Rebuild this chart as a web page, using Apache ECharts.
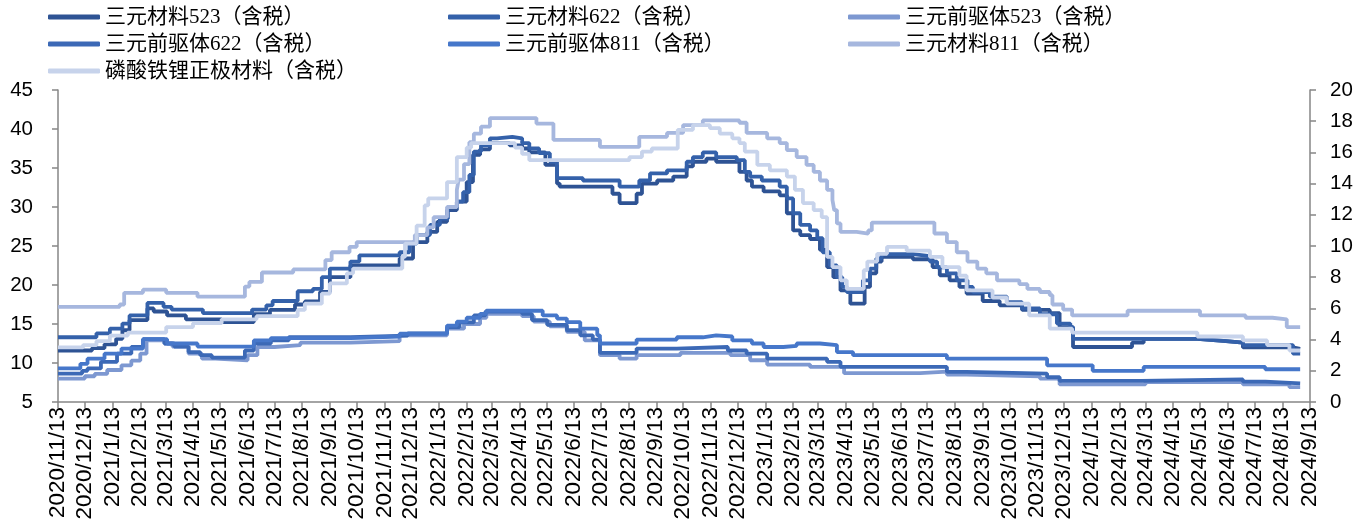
<!DOCTYPE html>
<html><head><meta charset="utf-8">
<script src="https://cdn.jsdelivr.net/npm/echarts@6/dist/echarts.min.js"></script>
<style>html,body{margin:0;padding:0;background:#fff}#c{width:1366px;height:527px}</style>
</head><body><div id="c"></div>
<script>
const seriesNames = ['三元材料523（含税）','三元材料622（含税）','三元前驱体523（含税）','三元前驱体622（含税）','三元前驱体811（含税）','三元材料811（含税）','磷酸铁锂正极材料（含税）'];
const tickLabels = ['2020/11/13','2020/12/13','2021/1/13','2021/2/13','2021/3/13','2021/4/13','2021/5/13','2021/6/13','2021/7/13','2021/8/13','2021/9/13','2021/10/13','2021/11/13','2021/12/13','2022/1/13','2022/2/13','2022/3/13','2022/4/13','2022/5/13','2022/6/13','2022/7/13','2022/8/13','2022/9/13','2022/10/13','2022/11/13','2022/12/13','2023/1/13','2023/2/13','2023/3/13','2023/4/13','2023/5/13','2023/6/13','2023/7/13','2023/8/13','2023/9/13','2023/10/13','2023/11/13','2023/12/13','2024/1/13','2024/2/13','2024/3/13','2024/4/13','2024/5/13','2024/6/13','2024/7/13','2024/8/13','2024/9/13'];
const leftTicks = [5,45,5];
const rightTicks = [0,20,2];

const ncm523 = [['2020-11-13',11.6],['2020-12-21',11.9],['2021-01-04',12.4],['2021-01-17',13.1],['2021-01-24',14.2],['2021-02-01',15.5],['2021-02-21',17.0],['2021-02-28',16.6],['2021-03-15',16.1],['2021-04-05',15.6],['2021-05-15',15.25],['2021-06-20',16.25],['2021-07-08',16.8],['2021-08-05',17.5],['2021-08-16',17.9],['2021-09-02',19.1],['2021-09-13',21.0],['2021-10-06',22.5],['2021-11-30',23.4],['2021-12-15',25.5],['2021-12-31',26.8],['2022-01-11',28.1],['2022-01-22',29.6],['2022-02-02',30.7],['2022-02-13',33.2],['2022-02-20',36.7],['2022-02-28',37.4],['2022-03-11',38.2],['2022-04-02',37.9],['2022-04-16',37.5],['2022-04-24',37.0],['2022-05-12',35.4],['2022-05-25',33.0],['2022-05-28',32.6],['2022-07-26',31.7],['2022-08-03',30.5],['2022-08-22',31.7],['2022-08-28',33.0],['2022-09-14',33.4],['2022-10-02',33.9],['2022-10-17',35.2],['2022-10-24',35.8],['2022-11-08',36.2],['2022-11-19',35.8],['2022-12-15',34.5],['2022-12-23',33.4],['2022-12-29',32.6],['2023-01-11',32.0],['2023-01-29',31.5],['2023-02-06',29.2],['2023-02-13',27.0],['2023-02-21',26.4],['2023-03-04',25.9],['2023-03-15',24.5],['2023-03-23',22.3],['2023-03-30',21.0],['2023-04-07',19.3],['2023-04-18',17.6],['2023-05-04',19.75],['2023-05-10',21.5],['2023-05-17',23.0],['2023-05-23',23.6],['2023-06-27',23.3],['2023-07-19',22.3],['2023-07-27',21.25],['2023-08-07',20.6],['2023-08-18',19.75],['2023-08-26',18.9],['2023-09-13',17.95],['2023-10-02',17.4],['2023-10-27',16.8],['2023-11-27',16.4],['2023-12-08',14.6],['2023-12-23',12.05],['2024-02-27',12.6],['2024-03-11',13.1],['2024-05-10',12.85],['2024-06-08',12.6],['2024-06-30',12.0],['2024-08-25',11.8],['2024-09-02',11.8]];

const ncm622 = [['2020-11-13',13.3],['2020-12-26',13.8],['2021-01-10',14.4],['2021-01-24',15.05],['2021-02-01',16.1],['2021-02-21',17.7],['2021-03-11',17.2],['2021-03-20',16.85],['2021-04-24',16.4],['2021-06-18',16.85],['2021-07-04',17.4],['2021-07-11',17.95],['2021-08-08',19.2],['2021-08-25',19.5],['2021-09-04',21.0],['2021-09-13',22.1],['2021-10-06',23.0],['2021-10-16',23.8],['2021-11-30',24.2],['2021-12-11',25.3],['2021-12-19',26.4],['2022-01-03',27.7],['2022-01-14',28.5],['2022-01-23',30.0],['2022-02-02',30.7],['2022-02-09',31.9],['2022-02-16',34.1],['2022-02-21',37.1],['2022-03-01',37.9],['2022-03-11',38.8],['2022-03-19',39.0],['2022-04-05',38.8],['2022-04-16',38.2],['2022-04-24',37.5],['2022-05-05',36.9],['2022-05-17',35.8],['2022-05-25',33.7],['2022-06-23',33.4],['2022-08-03',32.6],['2022-08-25',33.4],['2022-09-06',34.3],['2022-09-25',34.7],['2022-10-17',35.8],['2022-10-24',36.4],['2022-11-04',37.0],['2022-11-19',36.4],['2022-12-12',36.0],['2022-12-21',34.5],['2022-12-27',33.9],['2023-01-09',33.4],['2023-01-29',32.6],['2023-02-06',31.1],['2023-02-13',29.2],['2023-02-21',27.7],['2023-03-04',27.0],['2023-03-12',26.0],['2023-03-18',24.2],['2023-03-26',22.5],['2023-04-03',21.0],['2023-04-09',19.75],['2023-04-14',19.1],['2023-05-02',20.6],['2023-05-10',22.1],['2023-05-17',23.4],['2023-05-23',23.95],['2023-06-27',23.7],['2023-07-16',23.0],['2023-07-24',22.25],['2023-08-04',21.5],['2023-08-15',20.6],['2023-08-27',19.75],['2023-09-02',19.1],['2023-09-21',18.5],['2023-10-10',17.8],['2023-10-27',17.0],['2023-11-16',16.25],['2023-12-05',15.05],['2023-12-20',14.6],['2023-12-23',13.1],['2024-05-10',12.85],['2024-06-08',12.6],['2024-06-30',12.3],['2024-08-25',11.2],['2024-09-02',11.2]];

const pre523 = [['2020-11-13',8.0],['2020-12-13',8.3],['2020-12-24',8.6],['2021-01-07',9.1],['2021-01-23',9.7],['2021-02-03',10.3],['2021-02-13',11.2],['2021-02-20',12.9],['2021-03-12',12.5],['2021-03-21',12.1],['2021-04-08',11.2],['2021-04-23',10.55],['2021-05-08',10.35],['2021-06-13',11.0],['2021-06-24',12.05],['2021-07-13',12.3],['2021-08-11',12.6],['2021-10-06',12.8],['2021-11-30',13.55],['2022-01-22',14.4],['2022-02-10',15.0],['2022-02-28',15.8],['2022-03-07',16.3],['2022-04-16',16.0],['2022-04-29',15.3],['2022-05-17',14.7],['2022-06-05',14.0],['2022-06-25',12.9],['2022-07-12',11.0],['2022-08-03',10.55],['2022-08-22',11.0],['2022-10-10',11.3],['2022-12-05',11.0],['2022-12-27',10.35],['2023-01-15',9.8],['2023-03-04',9.5],['2023-04-11',8.7],['2023-07-05',8.9],['2023-08-04',8.5],['2023-08-26',8.3],['2023-11-16',8.0],['2023-12-08',7.25],['2024-03-13',7.55],['2024-06-30',7.25],['2024-08-21',6.9],['2024-09-02',6.9]];

const pre622 = [['2020-11-13',8.65],['2020-12-10',9.0],['2020-12-16',9.3],['2020-12-31',10.15],['2021-01-18',11.2],['2021-02-03',12.05],['2021-02-16',13.05],['2021-03-12',12.5],['2021-03-23',12.1],['2021-04-08',11.4],['2021-04-21',11.0],['2021-05-04',10.7],['2021-06-10',11.6],['2021-06-20',12.5],['2021-07-09',12.9],['2021-07-29',13.3],['2021-10-06',13.5],['2021-12-09',13.8],['2022-01-22',14.6],['2022-02-05',15.2],['2022-02-21',16.1],['2022-03-06',16.6],['2022-04-16',16.3],['2022-04-27',15.5],['2022-05-14',14.9],['2022-06-05',14.2],['2022-06-20',13.55],['2022-07-04',13.0],['2022-07-12',11.3],['2022-08-22',11.85],['2022-10-06',12.05],['2022-12-02',11.6],['2022-12-23',11.2],['2023-01-15',10.55],['2023-03-23',10.15],['2023-04-07',9.5],['2023-08-04',8.85],['2023-08-26',8.65],['2023-11-24',8.2],['2023-12-08',7.7],['2024-03-08',7.9],['2024-06-30',7.6],['2024-07-25',7.4],['2024-09-02',7.4]];

const pre811 = [['2020-11-13',9.3],['2020-12-08',9.9],['2020-12-16',10.55],['2021-01-04',11.2],['2021-01-23',11.85],['2021-02-16',13.05],['2021-03-15',12.5],['2021-04-18',12.1],['2021-06-20',12.9],['2021-07-09',13.2],['2021-10-06',13.4],['2021-11-30',13.75],['2022-01-22',14.8],['2022-02-02',15.3],['2022-02-13',15.8],['2022-02-28',16.3],['2022-03-07',16.7],['2022-05-09',16.1],['2022-05-25',15.7],['2022-06-05',15.25],['2022-06-20',14.4],['2022-07-09',13.55],['2022-07-12',12.5],['2022-08-22',13.0],['2022-10-06',13.3],['2022-11-04',13.55],['2022-11-19',13.4],['2022-12-07',12.9],['2022-12-29',12.5],['2023-01-11',12.05],['2023-02-02',12.2],['2023-02-17',12.5],['2023-03-15',12.3],['2023-04-03',11.4],['2023-04-21',11.0],['2023-08-04',10.55],['2023-11-24',9.7],['2024-01-14',9.0],['2024-03-11',9.5],['2024-07-25',9.2],['2024-09-02',9.2]];

const ncm811 = [['2020-11-13',17.2],['2021-01-21',17.5],['2021-01-26',19.0],['2021-02-16',19.4],['2021-03-14',19.0],['2021-04-18',18.5],['2021-06-10',19.8],['2021-06-15',20.4],['2021-06-29',21.6],['2021-08-03',22.0],['2021-09-08',23.2],['2021-09-15',24.2],['2021-10-05',24.9],['2021-10-13',25.5],['2021-12-17',26.4],['2021-12-31',27.4],['2022-01-07',28.7],['2022-01-22',30.0],['2022-02-02',32.2],['2022-02-04',33.5],['2022-02-10',35.5],['2022-02-16',38.3],['2022-02-21',39.4],['2022-03-01',40.3],['2022-03-11',41.4],['2022-05-02',40.7],['2022-05-21',38.6],['2022-07-12',37.7],['2022-08-25',39.0],['2022-09-25',39.5],['2022-10-13',40.5],['2022-11-04',41.1],['2022-12-15',40.8],['2022-12-23',39.5],['2023-01-15',38.8],['2023-01-29',38.2],['2023-02-06',37.3],['2023-02-17',36.4],['2023-02-28',35.4],['2023-03-08',34.5],['2023-03-15',33.4],['2023-03-23',32.2],['2023-03-29',30.9],['2023-03-31',29.6],['2023-04-03',27.9],['2023-04-07',26.8],['2023-04-25',26.6],['2023-05-08',27.0],['2023-05-12',28.0],['2023-07-21',26.6],['2023-08-04',25.5],['2023-08-15',24.2],['2023-08-27',23.0],['2023-09-07',22.1],['2023-09-17',21.5],['2023-09-29',20.6],['2023-10-24',20.1],['2023-11-02',19.5],['2023-11-16',19.1],['2023-11-27',18.7],['2023-11-30',17.5],['2023-12-12',16.85],['2023-12-22',16.1],['2024-02-22',16.7],['2024-05-13',16.1],['2024-07-03',15.8],['2024-08-02',15.6],['2024-08-18',14.6],['2024-09-02',14.6]];

const lfp = [['2020-11-13',3.5],['2020-12-11',3.65],['2020-12-26',3.9],['2021-01-10',4.25],['2021-01-30',4.45],['2021-03-14',4.8],['2021-04-13',5.05],['2021-05-15',5.3],['2021-06-23',5.5],['2021-08-08',5.9],['2021-08-16',6.3],['2021-09-04',6.95],['2021-09-13',7.6],['2021-10-02',8.25],['2021-10-09',8.55],['2021-12-03',9.3],['2021-12-06',10.15],['2021-12-19',11.3],['2021-12-28',12.6],['2022-01-01',13.05],['2022-01-22',14.1],['2022-02-02',15.7],['2022-02-13',16.3],['2022-02-18',16.6],['2022-04-08',16.3],['2022-04-16',15.9],['2022-04-24',15.5],['2022-08-14',15.7],['2022-08-28',16.05],['2022-09-08',16.25],['2022-10-07',17.45],['2022-10-24',17.75],['2022-11-12',17.55],['2022-11-23',17.2],['2022-12-07',16.9],['2022-12-15',16.6],['2022-12-21',16.05],['2023-01-04',15.2],['2023-01-18',14.85],['2023-02-06',14.45],['2023-02-15',13.6],['2023-02-24',12.75],['2023-03-08',12.3],['2023-03-17',11.85],['2023-03-23',9.3],['2023-03-29',8.65],['2023-04-07',7.8],['2023-04-14',7.25],['2023-05-03',8.45],['2023-05-07',9.0],['2023-05-18',9.5],['2023-05-29',9.95],['2023-06-20',9.7],['2023-07-16',9.3],['2023-07-30',8.65],['2023-08-18',8.1],['2023-08-26',7.15],['2023-09-24',6.7],['2023-10-10',6.3],['2023-11-04',5.55],['2023-11-27',4.7],['2023-12-22',4.45],['2024-05-10',4.2],['2024-06-30',3.95],['2024-07-27',3.65],['2024-08-21',3.3],['2024-09-02',3.3]];

const colors = ['#2E5394','#3461AA','#7D98D1','#3C69B6','#4677CA','#A6B7DE','#C7D3EB'];
const seriesData = [ncm523, ncm622, pre523, pre622, pre811, ncm811, lfp];
const axisIdx = [0,0,0,0,0,0,1];

function parseLabel(s){const p=s.split(/[\/-]/).map(Number);return new Date(p[0],p[1]-1,p[2]).getTime();}
const tickValues = tickLabels.map(parseLabel);
const labelMap = {}; tickLabels.forEach((l,i)=>{labelMap[tickValues[i]]=l;});

const chart = echarts.init(document.getElementById('c'));
const axisLine = {show:true,lineStyle:{color:'#868686',width:1.5}};
const legendCols = [[0,3,6],[1,4],[2,5]];
const legendLeft = [48,448,848];
const option = {
  animation:false,
  backgroundColor:'#fff',
  color: colors,
  legend: legendCols.map((col,ci)=>({
    orient:'vertical', left:legendLeft[ci], top:6, itemGap:5, padding:0,
    icon:'roundRect', itemWidth:52, itemHeight:5,
    textStyle:{fontSize:21, lineHeight:22, color:'#000', fontFamily:'"Liberation Serif","Noto Sans CJK SC",serif'},
    data: col.map(i=>seriesNames[i])
  })),
  grid:{left:58,right:56,top:90,bottom:125},
  xAxis:{
    type:'value',
    min: tickValues[0], max: tickValues[tickValues.length-1],
    axisLine: axisLine,
    axisTick:{show:true, customValues: tickValues, length:6, lineStyle:{color:'#868686',width:1.5}},
    axisLabel:{customValues: tickValues, rotate:90, fontSize:22.5, color:'#000', fontFamily:'"Liberation Sans",Arial,sans-serif', margin:5,
      formatter:(v)=>labelMap[v]||''},
    splitLine:{show:false}
  },
  yAxis:[
    {type:'value', min:leftTicks[0], max:leftTicks[1], interval:leftTicks[2], position:'left',
     axisLine: axisLine, axisTick:{show:true,length:6,lineStyle:{color:'#868686',width:1.5}},
     axisLabel:{fontSize:20.5,color:'#000',fontFamily:'"Liberation Sans",Arial,sans-serif',margin:25},
     splitLine:{show:false}},
    {type:'value', min:rightTicks[0], max:rightTicks[1], interval:rightTicks[2], position:'right',
     axisLine: axisLine, axisTick:{show:true,length:6,lineStyle:{color:'#868686',width:1.5}},
     axisLabel:{fontSize:20.5,color:'#000',fontFamily:'"Liberation Sans",Arial,sans-serif',margin:20},
     splitLine:{show:false}}
  ],
  series: seriesData.map((d,i)=>({
    name: seriesNames[i], type:'line', yAxisIndex: axisIdx[i], step:'end',
    showSymbol:false, symbol:'none', data:d.map(p=>[parseLabel(p[0]),p[1]]),
    lineStyle:{width:3.8, color:colors[i]}, itemStyle:{color:colors[i]},
    z: 2+i
  }))
};
chart.setOption(option);
</script></body></html>
